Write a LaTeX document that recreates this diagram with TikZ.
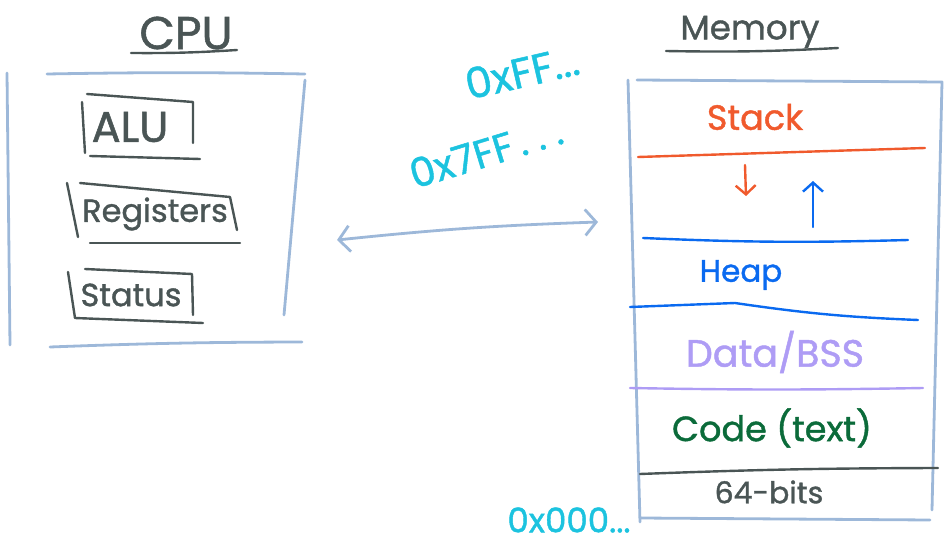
\documentclass[tikz,border=0pt]{standalone}
\usepackage{fontspec}
\usepackage{xcolor}
\usepackage{tikz}
\usetikzlibrary{arrows,arrows.meta}
\newfontfamily\hand[FakeBold=1.2]{Poppins}
\definecolor{ink}{HTML}{4A5555}
\definecolor{framec}{HTML}{9DB8D9}
\definecolor{addrc}{HTML}{1CC3DF}
\definecolor{stackc}{HTML}{F05A2D}
\definecolor{heapc}{HTML}{0A6AF0}
\definecolor{datac}{HTML}{AE9CF5}
\definecolor{codec}{HTML}{0B6B3A}
\newcommand{\fsz}[1]{\hand\fontsize{#1}{#1}\selectfont}
\newcommand{\sdots}{\kern6pt.\kern10pt.\kern10pt.}% points espaces
\tikzset{
  pen/.style = {line width=2.4pt, line cap=round, line join=round},
  pen_f/.style = {pen, draw=framec, line width=2.8pt},% cadre bleu clair
  pen_k/.style = {pen, draw=ink},% trait gris fonce
  barb/.style = {>={Straight Barb[length=11pt,width=26pt]}},% pointe ouverte
  barb_s/.style = {>={Straight Barb[length=9pt,width=20pt]}},% petite pointe
  txt/.style = {inner sep=0pt, font=\fsz{34}},
  txt_a/.style = {txt, addrc}% adresses
}

\begin{document}
\begin{tikzpicture}[x=1pt,y=-1pt]
\useasboundingbox (0,0) rectangle (946,551);
% CPU
\node [txt, ink, font=\fsz{46}] (cpu) at (186,33) {CPU};
\draw [pen_k] (131,53) to[bend right=2] (237,50);
\draw [pen_f] (7,73) -- (10,345);
\draw [pen_f] (47,74) to[bend left=1] (305,74);
\draw [pen_f] (305,80) -- (284,315);
\draw [pen_f] (50,347) to[bend left=1] (302,342);
\node [txt, ink, font=\fsz{43}] (alu) at (130,127) {ALU};
\draw [pen_k] (82,102) -- (85,153);
\draw [pen_k] (87,94) -- (193,102) -- (193,143);
\draw [pen_k] (90,156) -- (200,159);
\node [txt, ink, font=\fsz{32}] (reg) at (155,214) {Registers};
\draw [pen_k] (67,183) -- (78,237);
\draw [pen_k] (80,183) -- (230,197) -- (237,230);
\draw [pen_k] (90,243) -- (240,243);
\node [txt, ink, font=\fsz{32}] (stat) at (131,295) {Status};
\draw [pen_k] (68,272) -- (75,318) -- (203,323);
\draw [pen_k] (85,269) -- (192,274) -- (193,315);
% bus
\coordinate (busl) at (337,240);
\coordinate (busr) at (598,222);
\draw [pen_f, barb, <->] (busl) to[bend left=2] (busr);
\node [txt_a, font=\fsz{42}, rotate=13] (ffh) at (522,72) {0xFF...};
\node [txt_a, font=\fsz{40}, rotate=17] (sfh) at (486,152) {0x7FF\sdots};
\node [txt_a, font=\fsz{34}] (zero) at (569,520) {0x000...};
% Memory
\node [txt, ink, font=\fsz{34}] (mem) at (750,32) {Memory};
\draw [pen_k] (666,51) to[bend right=2] (838,48);
\draw [pen_f] (628,80) -- (640,522);
\draw [pen_f] (637,80) -- (942,82) -- (932,510);
\draw [pen_f] (640,518) -- (930,520);
\node [txt, stackc, font=\fsz{35}] (stack) at (755,117) {Stack};
\draw [pen, draw=stackc] (638,157) -- (925,148);
\draw [pen, draw=stackc, barb_s, ->] (745,165) -- (746,196);
\draw [pen, draw=heapc, barb_s, ->] (813,227) -- (813,181);
\draw [pen, draw=heapc] (643,238) to[bend right=2] (908,240);
\node [txt, heapc, font=\fsz{31}] (heap) at (741,275) {Heap};
\draw [pen, draw=heapc] (630,307) -- (735,303) to[bend right=3] (918,320);
\node [txt, datac, font=\fsz{38}] (data) at (775,352) {Data/BSS};
\draw [pen, draw=datac] (630,388) to[bend right=1] (923,388);
\node [txt, codec, font=\fsz{35}] (code) at (772,428) {Code (text)};
\draw [pen_k] (640,474) to[bend left=1] (938,468);
\node [txt, ink, font=\fsz{30}] (bits) at (769,492) {64-bits};
\end{tikzpicture}
\end{document}
